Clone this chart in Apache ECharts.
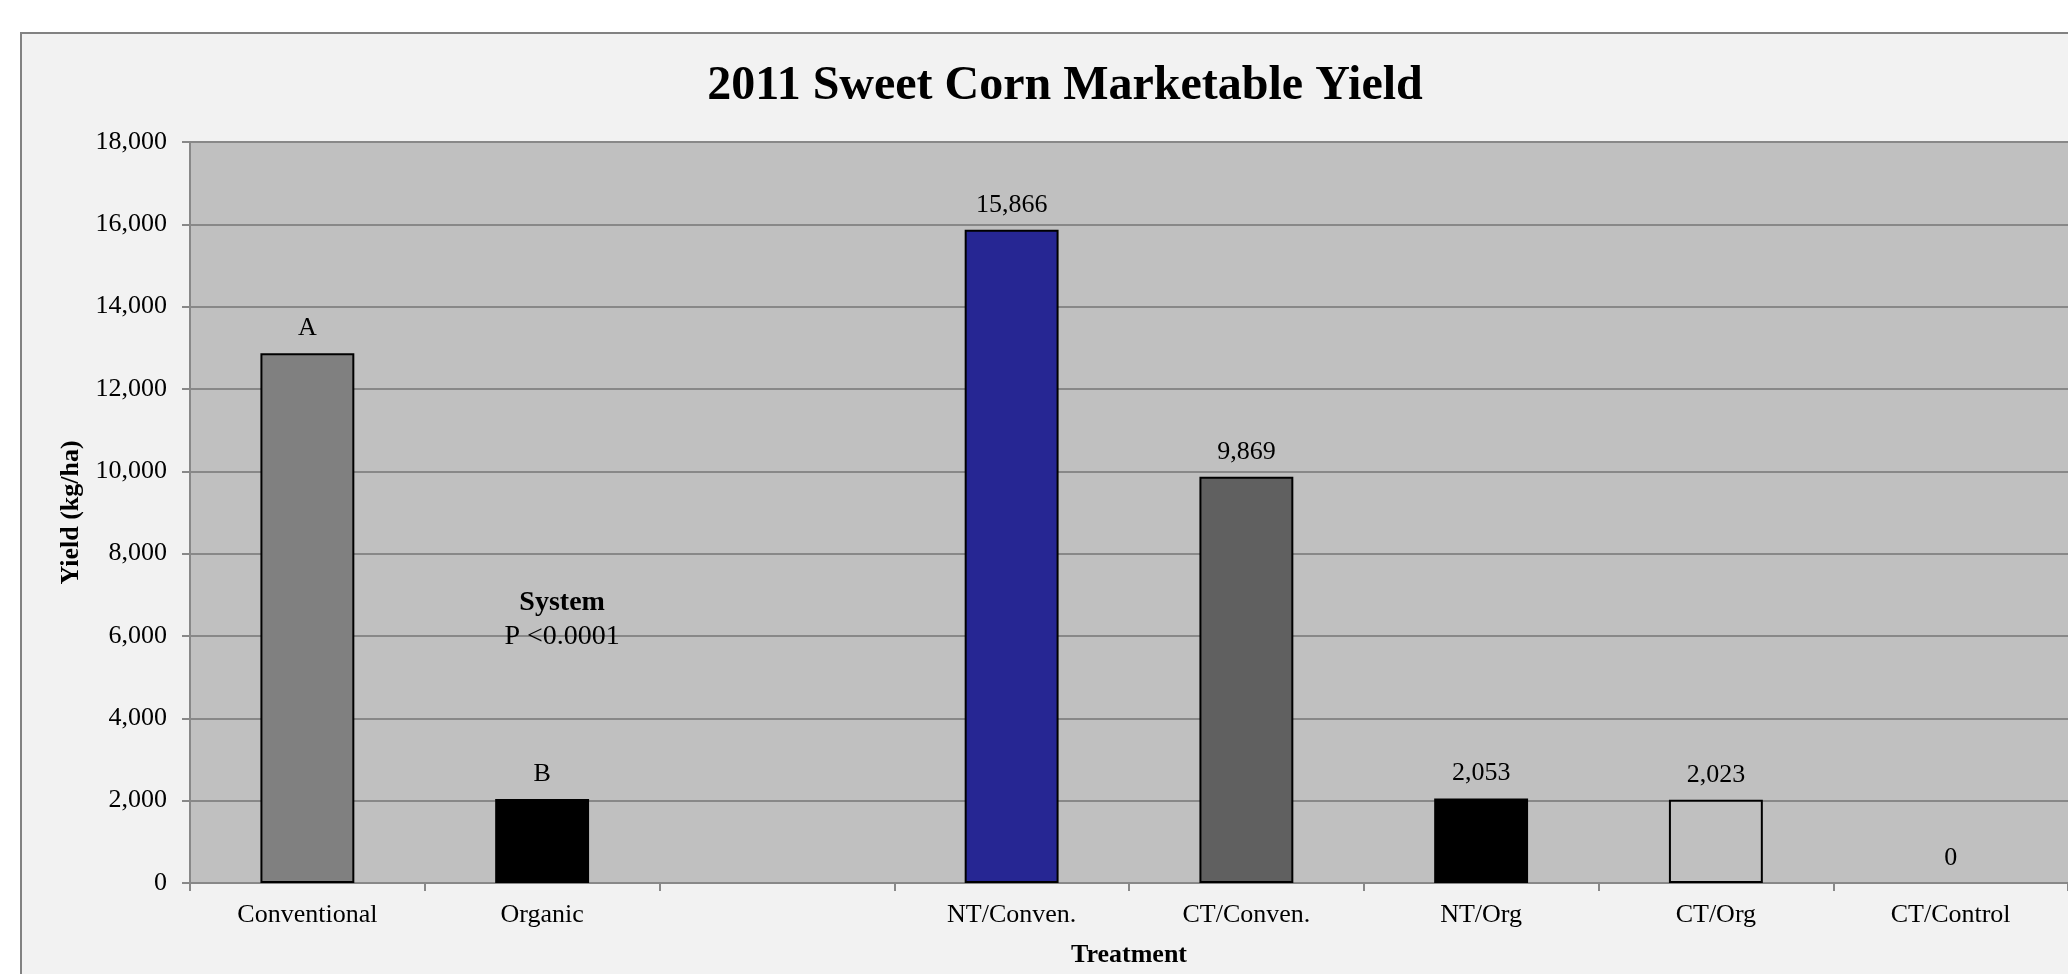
<!DOCTYPE html>
<html>
<head>
<meta charset="utf-8">
<script src="https://cdn.jsdelivr.net/npm/echarts@6/dist/echarts.min.js"></script>
<style>
html,body{margin:0;padding:0;background:#fff;}
#chart{width:2068px;height:974px;}
</style>
</head>
<body>
<div id="chart"></div>
<script>
// ---- data ----
const categories = ['Conventional', 'Organic', '', 'NT/Conven.', 'CT/Conven.', 'NT/Org', 'CT/Org', 'CT/Control'];
const yieldValues = [12868, 2038, null, 15866, 9869, 2053, 2023, 0];
const letterLabels = ['A', 'B', null, null, null, null, null, null];
const barColors = ['#808080', '#000000', '#C0C0C0', '#262693', '#606060', '#000000', '#C0C0C0', '#C0C0C0'];
const yTicks = [0, 2000, 4000, 6000, 8000, 10000, 12000, 14000, 16000, 18000];
const annotationLines = ['System', 'P <0.0001'];
const annotationAt = ['Organic', 6400];

const FONT = '"Liberation Serif", "Times New Roman", serif';
const fmt = v => echarts.format.addCommas(v);

const chart = echarts.init(document.getElementById('chart'));
chart.setOption({
  backgroundColor: '#ffffff',
  animation: false,
  graphic: {
    elements: [{
      type: 'rect',
      z: -10,
      silent: true,
      shape: { x: 21, y: 33, width: 2200, height: 1100 },
      style: { fill: '#F2F2F2', stroke: '#828282', lineWidth: 2 }
    }]
  },
  title: {
    text: '2011 Sweet Corn Marketable Yield',
    left: 1060,
    top: 58,
    textAlign: 'center',
    textStyle: { fontFamily: FONT, fontWeight: 'bold', fontSize: 48, color: '#000' }
  },
  grid: {
    left: 190, top: 142, right: 0, bottom: 91,
    show: true, backgroundColor: '#C0C0C0', borderWidth: 0
  },
  xAxis: {
    type: 'category',
    data: categories,
    name: 'Treatment',
    nameLocation: 'middle',
    nameGap: 59,
    nameTextStyle: { fontFamily: FONT, fontWeight: 'bold', fontSize: 26, color: '#000' },
    axisLine: { lineStyle: { color: '#888', width: 2 } },
    axisTick: { show: true, length: 8, interval: 0, lineStyle: { color: '#888', width: 2 } },
    axisLabel: { interval: 0, margin: 19, fontFamily: FONT, fontSize: 26, color: '#000' }
  },
  yAxis: {
    type: 'value',
    min: yTicks[0],
    max: yTicks[yTicks.length - 1],
    interval: yTicks[1] - yTicks[0],
    name: 'Yield (kg/ha)',
    nameLocation: 'middle',
    nameGap: 103,
    nameRotate: 90,
    nameTextStyle: { fontFamily: FONT, fontWeight: 'bold', fontSize: 26, color: '#000' },
    axisLine: { show: true, lineStyle: { color: '#888', width: 2 } },
    axisTick: { show: true, length: 8, lineStyle: { color: '#888', width: 2 } },
    axisLabel: { margin: 23, fontFamily: FONT, fontSize: 26, color: '#000', formatter: v => fmt(v) },
    splitLine: { show: true, lineStyle: { color: '#888', width: 2 } }
  },
  series: [{
    type: 'bar',
    barWidth: '40%',
    data: yieldValues.map((v, i) => ({
      value: v,
      itemStyle: { color: barColors[i], borderColor: '#000', borderWidth: v ? 2 : 0 }
    })),
    label: {
      show: true,
      position: 'top',
      distance: 12,
      fontFamily: FONT,
      fontSize: 26,
      color: '#000',
      formatter: p => letterLabels[p.dataIndex] != null ? letterLabels[p.dataIndex] : fmt(p.value)
    },
    markPoint: {
      symbol: 'circle',
      symbolSize: 0,
      silent: true,
      data: [{
        coord: annotationAt,
        label: {
          show: true,
          position: 'inside',
          offset: [20, 0],
          formatter: '{b|' + annotationLines[0] + '}\n{r|' + annotationLines[1] + '}',
          rich: {
            b: { fontFamily: FONT, fontWeight: 'bold', fontSize: 28, lineHeight: 34, color: '#000', align: 'center' },
            r: { fontFamily: FONT, fontSize: 28, lineHeight: 34, color: '#000', align: 'center' }
          }
        }
      }]
    }
  }]
});
</script>
</body>
</html>
